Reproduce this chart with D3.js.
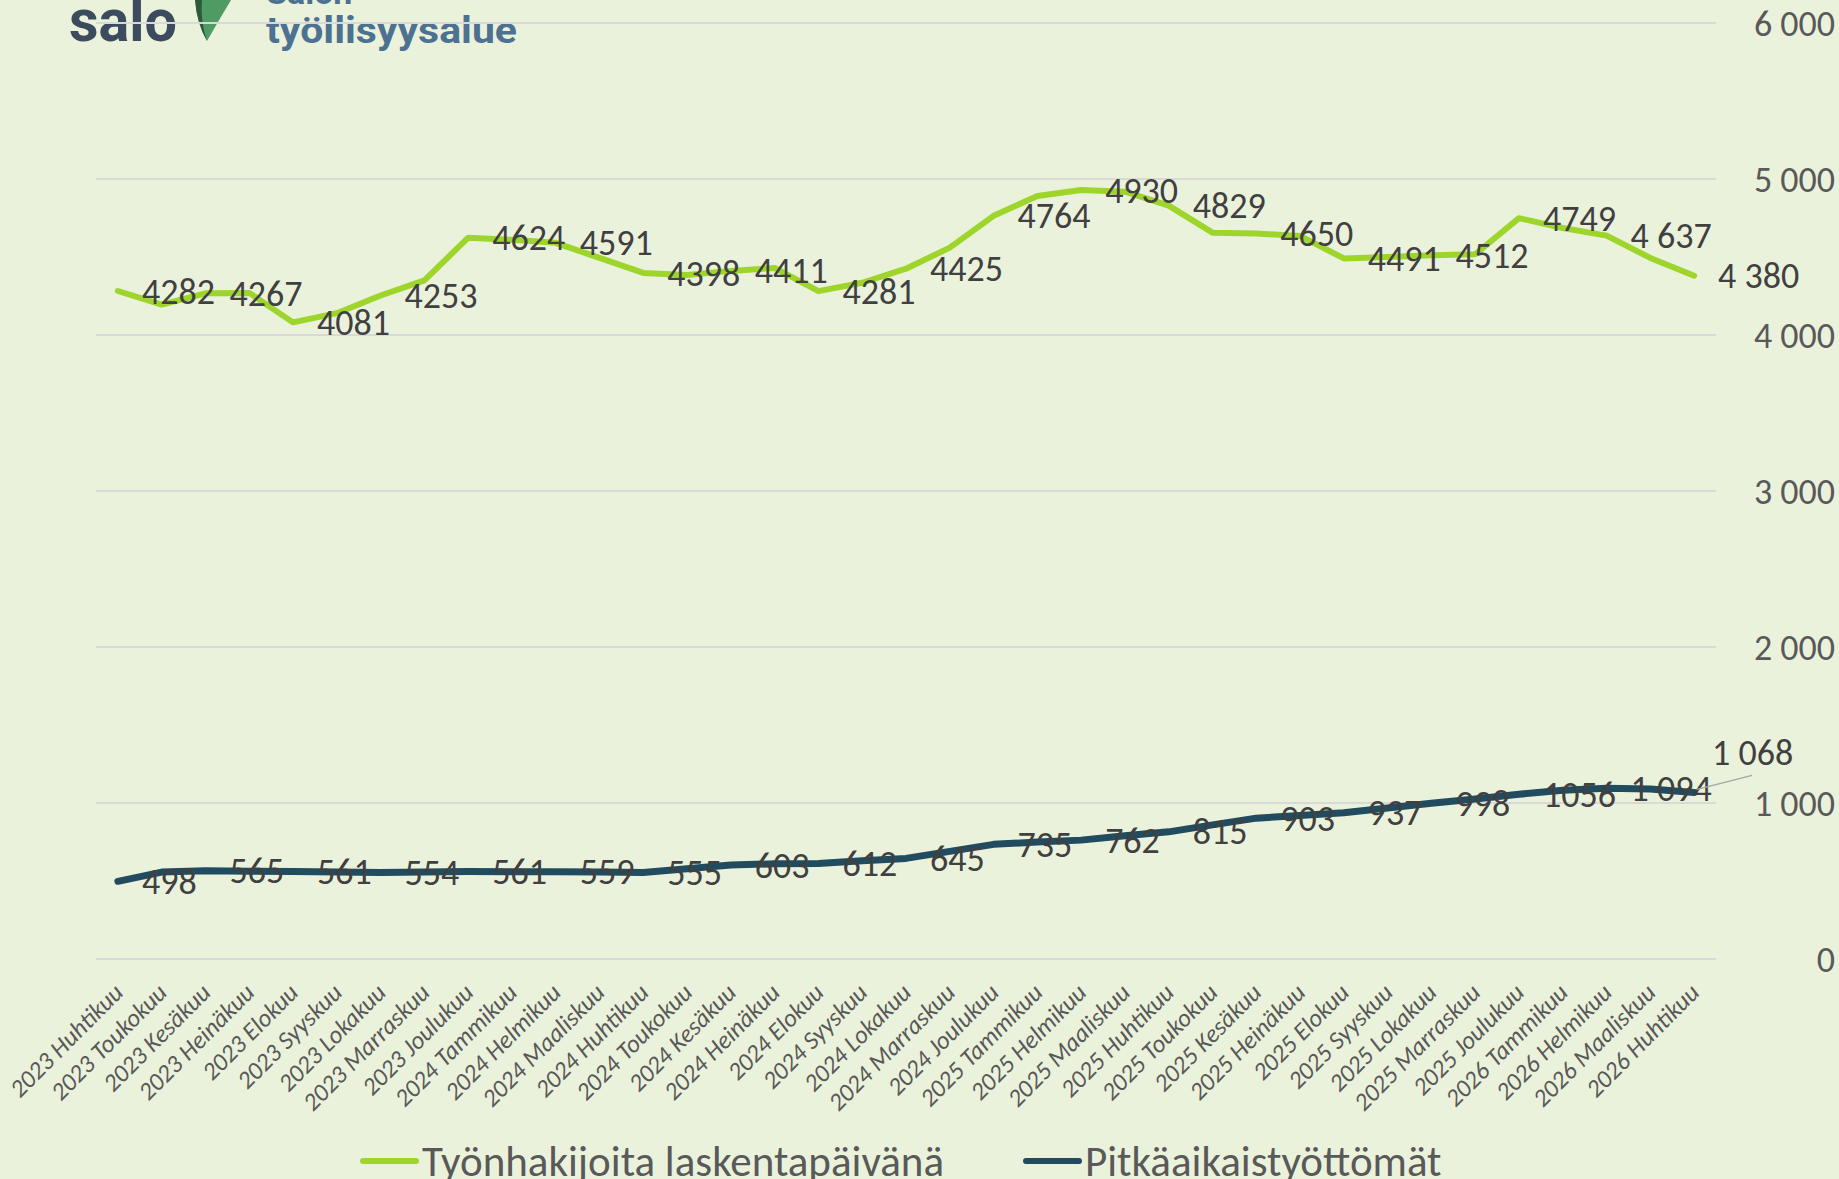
<!DOCTYPE html>
<html>
<head>
<meta charset="utf-8">
<script src="https://cdn.jsdelivr.net/npm/d3@7"></script>
<style>
    body { margin: 0; background: #ebf2dc; }
    svg { display: block; }
</style>
</head>
<body>
<div id="chart"></div>
<script>
//Chart data - one entry per month
var months = [
    "2023 Huhtikuu", "2023 Toukokuu", "2023 Kesäkuu", "2023 Heinäkuu", "2023 Elokuu", "2023 Syyskuu",
    "2023 Lokakuu", "2023 Marraskuu", "2023 Joulukuu", "2024 Tammikuu", "2024 Helmikuu", "2024 Maaliskuu",
    "2024 Huhtikuu", "2024 Toukokuu", "2024 Kesäkuu", "2024 Heinäkuu", "2024 Elokuu", "2024 Syyskuu",
    "2024 Lokakuu", "2024 Marraskuu", "2024 Joulukuu", "2025 Tammikuu", "2025 Helmikuu", "2025 Maaliskuu",
    "2025 Huhtikuu", "2025 Toukokuu", "2025 Kesäkuu", "2025 Heinäkuu", "2025 Elokuu", "2025 Syyskuu",
    "2025 Lokakuu", "2025 Marraskuu", "2025 Joulukuu", "2026 Tammikuu", "2026 Helmikuu", "2026 Maaliskuu",
    "2026 Huhtikuu"
];

var jobSeekers = [
    4282, 4195, 4267, 4270, 4081, 4140, 4253, 4350, 4624, 4610, 4591, 4494,
    4398, 4385, 4411, 4430, 4281, 4335, 4425, 4560, 4764, 4891, 4930, 4919,
    4829, 4656, 4650, 4635, 4491, 4500, 4512, 4518, 4749, 4686, 4637, 4494,
    4380
];

var longTermUnemployed = [
    498, 557, 565, 563, 561, 558, 554, 557, 561, 560, 559, 558,
    555, 578, 603, 610, 612, 630, 645, 690, 735, 750, 762, 790,
    815, 860, 903, 920, 937, 968, 998, 1025, 1056, 1082, 1094, 1090,
    1068
];

var seriesNames = ["Työnhakijoita laskentapäivänä", "Pitkäaikaistyöttömät"];
var yTicks = [0, 1000, 2000, 3000, 4000, 5000, 6000];

//Labels are only shown on every second month, the last ones use a space separator
var labelEvery = 2,
    spacedLabelFrom = 34;

function render_chart(target_id) {
    var width = 1839,
        height = 1179,
        plot = {left: 96, right: 1716, top: 23, bottom: 959};

    var font = "Carlito, Calibri, 'Liberation Sans Narrow', 'DejaVu Sans Condensed', 'Open Sans', sans-serif";

    var green = "#9dd52a",
        navy = "#214b5e",
        grid = "#d9d9d9",
        labelColor = "#404040",
        axisColor = "#595959";

    var svg = d3.select("#" + target_id).append("svg")
        .attr("width", width)
        .attr("height", height)
        .style("font-family", font);

    svg.append("rect")
        .attr("width", width)
        .attr("height", height)
        .attr("fill", "#ebf2dc");

    //Logo in the top left corner (cut by the top edge)
    var logo = svg.append("g").attr("class", "logo");
    logo.append("text")
        .attr("x", 69).attr("y", 41)
        .style("font-family", "Roboto, sans-serif")
        .style("font-weight", "bold")
        .style("font-size", "60px")
        .attr("fill", "#3c4b5d")
        .attr("textLength", 108)
        .attr("lengthAdjust", "spacingAndGlyphs")
        .text("salo");
    logo.append("path")
        .attr("d", "M195,0 Q197,24 207,41 Q219,20 231,0 Z")
        .attr("fill", "#4f9b64");
    logo.append("path")
        .attr("d", "M195,0 Q197,24 207,41 Q200,20 202,0 Z")
        .attr("fill", "#2d5a3a");
    logo.append("text")
        .attr("x", 266).attr("y", 4)
        .style("font-family", "Roboto, sans-serif")
        .style("font-weight", "bold")
        .style("font-size", "34px")
        .attr("fill", "#4d7190")
        .text("Salon");
    logo.append("text")
        .attr("x", 266).attr("y", 43)
        .style("font-family", "Roboto, sans-serif")
        .style("font-weight", "bold")
        .style("font-size", "36px")
        .attr("fill", "#4d7190")
        .attr("textLength", 251)
        .attr("lengthAdjust", "spacingAndGlyphs")
        .text("työllisyysalue");

    //Scales
    var x = d3.scalePoint()
        .domain(months)
        .range([plot.left, plot.right])
        .padding(0.5);

    var y = d3.scaleLinear()
        .domain([0, 6000])
        .range([plot.bottom, plot.top]);

    //Gridlines
    svg.append("g").selectAll("line")
        .data(yTicks)
        .enter().append("line")
        .attr("x1", plot.left)
        .attr("x2", plot.right)
        .attr("y1", function(d) { return y(d); })
        .attr("y2", function(d) { return y(d); })
        .attr("stroke", grid)
        .attr("stroke-width", 2);

    //Y axis on the right, labels right aligned
    var fmtSpace = d3.formatLocale({decimal: ",", thousands: " ", grouping: [3], currency: ["", "€"]}).format(",");
    var yAxis = d3.axisRight(y)
        .tickValues(yTicks)
        .tickSize(0)
        .tickFormat(fmtSpace);

    var yAxisG = svg.append("g")
        .attr("transform", "translate(1835,0)")
        .call(yAxis);
    yAxisG.select(".domain").remove();
    yAxisG.selectAll("text")
        .attr("x", 0)
        .attr("dy", "0.35em")
        .style("text-anchor", "end")
        .style("font-family", font)
        .style("font-size", "36px")
        .attr("fill", axisColor);

    //X axis, rotated category labels
    var xAxis = d3.axisBottom(x).tickSize(0);
    var xAxisG = svg.append("g")
        .attr("transform", "translate(0," + plot.bottom + ")")
        .call(xAxis);
    xAxisG.select(".domain").remove();
    xAxisG.selectAll("text")
        .attr("y", 0)
        .attr("dy", "0.35em")
        .attr("transform", "translate(0,29) rotate(-45)")
        .style("text-anchor", "end")
        .style("font-family", font)
        .style("font-style", "italic")
        .style("font-size", "25px")
        .attr("fill", axisColor);

    //Lines
    var series = [
        {name: seriesNames[0], values: jobSeekers, color: green, width: 6},
        {name: seriesNames[1], values: longTermUnemployed, color: navy, width: 7}
    ];

    var line = d3.line()
        .x(function(d, i) { return x(months[i]); })
        .y(function(d) { return y(d); });

    series.forEach(function(s) {
        svg.append("path")
            .datum(s.values)
            .attr("d", line)
            .attr("fill", "none")
            .attr("stroke", s.color)
            .attr("stroke-width", s.width)
            .attr("stroke-linejoin", "round")
            .attr("stroke-linecap", "round");
    });

    //Data labels, right of the point
    function labelText(v, i) {
        return i >= spacedLabelFrom ? fmtSpace(v) : String(v);
    }

    series.forEach(function(s, si) {
        var labelled = s.values
            .map(function(v, i) { return {v: v, i: i}; })
            .filter(function(d) { return d.i % labelEvery === 0; });

        svg.append("g").selectAll("text")
            .data(labelled)
            .enter().append("text")
            .attr("x", function(d) { return x(months[d.i]) + 24; })
            .attr("y", function(d) { return y(d.v); })
            .attr("dy", "0.35em")
            .style("font-size", "36px")
            .attr("fill", labelColor)
            .text(function(d) { return labelText(d.v, d.i); })
            .each(function(d) {
                //Last navy label has been dragged up with a leader line
                if (si === 1 && d.i === s.values.length - 1) {
                    var px = x(months[d.i]), py = y(d.v);
                    d3.select(this)
                        .attr("x", px + 18)
                        .attr("y", py - 40);
                    svg.append("line")
                        .attr("x1", px + 3).attr("y1", py - 3)
                        .attr("x2", px + 58).attr("y2", py - 17)
                        .attr("stroke", "#a6a6a6")
                        .attr("stroke-width", 1.5);
                }
            });
    });

    //Legend at the bottom
    var legend = svg.append("g").attr("class", "legend");
    var legendY = 1161,
        cursor = 363;
    series.forEach(function(s, i) {
        legend.append("line")
            .attr("x1", cursor).attr("x2", cursor + 53)
            .attr("y1", legendY).attr("y2", legendY)
            .attr("stroke", s.color)
            .attr("stroke-width", 6)
            .attr("stroke-linecap", "round");
        var t = legend.append("text")
            .attr("x", cursor + 59)
            .attr("y", legendY)
            .attr("dy", "0.35em")
            .style("font-size", "43px")
            .attr("fill", axisColor)
            .text(s.name);
        cursor = cursor + 59 + t.node().getComputedTextLength() + 82;
    });
}

render_chart("chart");
</script>
</body>
</html>
